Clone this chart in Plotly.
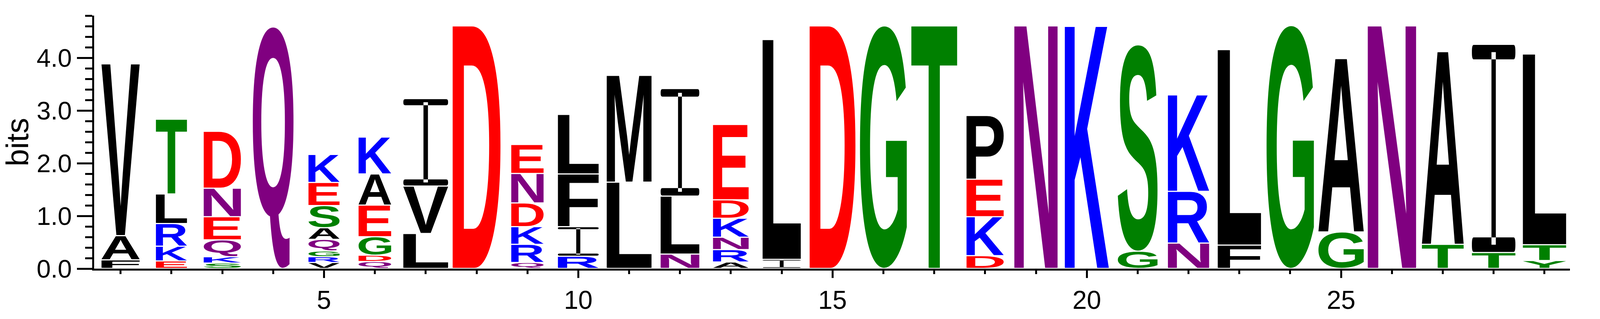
# Sequence logo (WebLogo style) drawn with plotly shapes
# letters are taken from the outlines of a bold sans font and stretched to fill each slot
import glob
import struct

import plotly.graph_objects as go


# sequence positions along the logo
positions = list(range(1, 30))

# letters of every stack, from the bottom to the top
stack_letters = ["FAV", "EKRLT", "SKQEND", "Q", "VRGQASEK", "QDGEAK", "LVI", "D",
                 "QRKDNE", "RIFL", "LM", "NLI", "ARNKDE", "IL", "D", "G", "T", "DKEP",
                 "N", "K", "GS", "NRK", "FL", "G", "GA", "N", "TA", "TI", "YTL"]

# height of every letter in bits, same order as stack_letters
stack_bits = [
    [0.14, 0.46, 3.26],
    [0.12, 0.28, 0.43, 0.56, 1.42],
    [0.08, 0.12, 0.32, 0.44, 0.54, 1.08],
    [4.56],
    [0.09, 0.11, 0.11, 0.22, 0.22, 0.42, 0.44, 0.53],
    [0.11, 0.12, 0.35, 0.60, 0.59, 0.70],
    [0.64, 0.90, 1.66],
    [4.58],
    [0.09, 0.345, 0.335, 0.45, 0.56, 0.55],
    [0.21, 0.56, 1.00, 1.13],
    [1.615, 2.025],
    [0.25, 1.10, 2.04],
    [0.10, 0.235, 0.235, 0.36, 0.35, 1.43],
    [0.15, 4.17],
    [4.58],
    [4.58],
    [4.58],
    [0.22, 0.74, 0.71, 1.21],
    [4.58],
    [4.57],
    [0.305, 3.915],
    [0.46, 0.98, 1.83],
    [0.42, 3.71],
    [4.585],
    [0.67, 3.29],
    [4.58],
    [0.435, 3.655],
    [0.28, 3.95],
    [0.127, 0.30, 3.62],
]

# visible width of every stack, as a fraction of one column
stack_widths = [0.75, 0.61, 0.73, 0.80, 0.61, 0.64, 0.88, 0.94, 0.635, 0.80,
                0.88, 0.76, 0.70, 0.75, 0.90, 0.92, 0.90, 0.73, 0.85, 0.865,
                0.78, 0.81, 0.85, 0.93, 0.89, 0.95, 0.82, 0.855, 0.85]

# y axis ticks
bit_ticks = [0, 1, 2, 3, 4]
# x axis labelled ticks
position_ticks = [5, 10, 15, 20, 25]

# chemistry colour scheme
colors = {}
for c in "GSTYC":
    colors[c] = "rgb(0,128,0)"
for c in "NQ":
    colors[c] = "rgb(128,0,128)"
for c in "KRH":
    colors[c] = "rgb(0,0,255)"
for c in "DE":
    colors[c] = "rgb(255,0,0)"
for c in "AVLIPWFM":
    colors[c] = "rgb(0,0,0)"

# the browser window only gets 4096 px wide, so every horizontal size is scaled down to that
PAGE_W = 4096
K = PAGE_W / 4250.0


def find_font():
    for name in ["LiberationSans-Bold.ttf", "Arimo-Bold.ttf", "DejaVuSans-Bold.ttf"]:
        hits = glob.glob("/usr/**/" + name, recursive=True)
        if hits:
            return hits[0]
    raise RuntimeError("no bold font found")


def load_glyphs(path, chars):
    """
    Read the outlines of some characters out of a TrueType file
    :return: dict char -> (bbox, list of contours [(x, y, oncurve), ...])
    """
    data = open(path, "rb").read()
    ntables = struct.unpack(">H", data[4:6])[0]
    tables = {}
    for i in range(ntables):
        tag, _, off, _ = struct.unpack(">4sIII", data[12 + 16 * i: 28 + 16 * i])
        tables[tag.decode("latin-1")] = off

    head = tables["head"]
    loc_format = struct.unpack(">h", data[head + 50: head + 52])[0]

    # cmap format 4
    cmap = tables["cmap"]
    nsub = struct.unpack(">H", data[cmap + 2: cmap + 4])[0]
    sub = None
    for i in range(nsub):
        pid, eid, off = struct.unpack(">HHI", data[cmap + 4 + 8 * i: cmap + 12 + 8 * i])
        fmt = struct.unpack(">H", data[cmap + off: cmap + off + 2])[0]
        if pid == 3 and fmt == 4 and sub is None:
            sub = cmap + off
    seg2 = struct.unpack(">H", data[sub + 6: sub + 8])[0]
    nseg = seg2 // 2
    ends = struct.unpack(">%dH" % nseg, data[sub + 14: sub + 14 + seg2])
    p = sub + 16 + seg2
    starts = struct.unpack(">%dH" % nseg, data[p: p + seg2])
    deltas = struct.unpack(">%dh" % nseg, data[p + seg2: p + 2 * seg2])
    ro = p + 2 * seg2
    ranges = struct.unpack(">%dH" % nseg, data[ro: ro + seg2])

    def glyph_id(ch):
        code = ord(ch)
        for i in range(nseg):
            if starts[i] <= code <= ends[i]:
                if ranges[i] == 0:
                    return (code + deltas[i]) & 0xFFFF
                addr = ro + 2 * i + ranges[i] + 2 * (code - starts[i])
                g = struct.unpack(">H", data[addr: addr + 2])[0]
                return (g + deltas[i]) & 0xFFFF if g else 0
        return 0

    loca = tables["loca"]
    glyf = tables["glyf"]

    def glyph_offset(g):
        if loc_format == 0:
            return 2 * struct.unpack(">H", data[loca + 2 * g: loca + 2 * g + 2])[0]
        return struct.unpack(">I", data[loca + 4 * g: loca + 4 * g + 4])[0]

    glyphs = {}
    for ch in chars:
        p = glyf + glyph_offset(glyph_id(ch))
        nc, xmin, ymin, xmax, ymax = struct.unpack(">hhhhh", data[p: p + 10])
        if nc < 0:
            raise RuntimeError("composite glyph " + ch)
        endpts = struct.unpack(">%dH" % nc, data[p + 10: p + 10 + 2 * nc])
        q = p + 10 + 2 * nc
        q += 2 + struct.unpack(">H", data[q: q + 2])[0]
        npts = endpts[-1] + 1
        flags = []
        while len(flags) < npts:
            f = data[q]
            q += 1
            flags.append(f)
            if f & 8:
                flags.extend([f] * data[q])
                q += 1
        coords = []
        for short_bit, same_bit in [(2, 16), (4, 32)]:
            vals = []
            v = 0
            for f in flags:
                if f & short_bit:
                    d = data[q]
                    q += 1
                    v += d if f & same_bit else -d
                elif not f & same_bit:
                    v += struct.unpack(">h", data[q: q + 2])[0]
                    q += 2
                vals.append(v)
            coords.append(vals)
        pts = [(coords[0][i], coords[1][i], flags[i] & 1) for i in range(npts)]
        contours = []
        s = 0
        for e in endpts:
            contours.append(pts[s: e + 1])
            s = e + 1
        glyphs[ch] = ((xmin, ymin, xmax, ymax), contours)
    return glyphs


def glyph_path(glyph, x0, x1, y0, y1):
    """ SVG path of a glyph stretched into the box [x0,x1] x [y0,y1] """
    (xmin, ymin, xmax, ymax), contours = glyph

    def tr(pt):
        x = x0 + (pt[0] - xmin) / (xmax - xmin) * (x1 - x0)
        y = y0 + (pt[1] - ymin) / (ymax - ymin) * (y1 - y0)
        return "%.4f,%.4f" % (x, y)

    parts = []
    for c in contours:
        k = next((i for i, pt in enumerate(c) if pt[2]), None)
        if k is None:
            start = ((c[0][0] + c[1][0]) / 2, (c[0][1] + c[1][1]) / 2, 1)
            c = c[1:] + c[:1]
        else:
            start = c[k]
            c = c[k + 1:] + c[:k]
        parts.append("M" + tr(start))
        ctrl = None
        for pt in c + [start]:
            if pt[2]:
                if ctrl is None:
                    parts.append("L" + tr(pt))
                else:
                    parts.append("Q" + tr(ctrl) + " " + tr(pt))
                    ctrl = None
            else:
                if ctrl is not None:
                    mid = ((ctrl[0] + pt[0]) / 2, (ctrl[1] + pt[1]) / 2, 1)
                    parts.append("Q" + tr(ctrl) + " " + tr(mid))
                ctrl = pt
        parts.append("Z")
    return " ".join(parts)


def rounded_box(x0, x1, y0, y1, rx, ry):
    f = lambda x, y: "%.4f,%.4f" % (x, y)
    return ("M" + f(x0 + rx, y0) + " L" + f(x1 - rx, y0) + " Q" + f(x1, y0) + " " + f(x1, y0 + ry) +
            " L" + f(x1, y1 - ry) + " Q" + f(x1, y1) + " " + f(x1 - rx, y1) +
            " L" + f(x0 + rx, y1) + " Q" + f(x0, y1) + " " + f(x0, y1 - ry) +
            " L" + f(x0, y0 + ry) + " Q" + f(x0, y0) + " " + f(x0 + rx, y0) + " Z")


def serif_i_path(x0, x1, y0, y1):
    """ WebLogo draws the I with bars so it is not mistaken for a plain stroke """
    w = x1 - x0
    h = y1 - y0
    bt = 0.07 * h
    rx = 0.04 * w
    ry = bt * 0.45
    xm = (x0 + x1) / 2
    sw = 0.05 * w
    return " ".join([
        rounded_box(x0, x1, y1 - bt, y1, rx, ry),
        rounded_box(x0, x1, y0, y0 + bt, rx, ry),
        "M%.4f,%.4f L%.4f,%.4f L%.4f,%.4f L%.4f,%.4f Z" % (
            xm - sw, y0 + bt * 0.5, xm + sw, y0 + bt * 0.5, xm + sw, y1 - bt * 0.5, xm - sw, y1 - bt * 0.5),
    ])


def visualize():
    glyphs = load_glyphs(find_font(), sorted(set("".join(stack_letters))))

    base = 0.015     # letters sit on top of the axis line
    gap = 0.022      # small white gap between stacked letters

    shapes = []
    for pos, letters, bits, width in zip(positions, stack_letters, stack_bits, stack_widths):
        y = base
        x0 = pos - width / 2
        x1 = pos + width / 2
        for n, (letter, h) in enumerate(zip(letters, bits)):
            ya = y + (gap if n > 0 else 0)
            yb = y + h
            if letter == "I":
                path = serif_i_path(x0, x1, ya, yb)
            else:
                path = glyph_path(glyphs[letter], x0, x1, ya, yb)
            shapes.append(dict(type="path", path=path, xref="x", yref="y",
                               fillcolor=colors[letter], line=dict(width=0)))
            y = yb

    fig = go.Figure(go.Scatter(x=positions, y=[0] * len(positions), mode="markers",
                               marker=dict(opacity=0), hoverinfo="skip", showlegend=False))

    fig.update_layout(
        width=PAGE_W, height=817,
        margin=dict(l=round(250 * K), r=round(80 * K), t=40, b=105),
        plot_bgcolor="white", paper_bgcolor="white",
        font=dict(family="Liberation Sans, Arial", color="black"),
        shapes=shapes,
        xaxis=dict(
            range=[0.48, 29.5], showgrid=False, zeroline=False,
            showline=True, linewidth=5, linecolor="black",
            tickvals=position_ticks, ticks="outside", ticklen=19, tickwidth=5, tickcolor="black",
            tickfont=dict(size=66),
            minor=dict(tickvals=[p for p in positions if p not in position_ticks],
                       ticks="outside", ticklen=9, tickwidth=5, tickcolor="black"),
        ),
        yaxis=dict(
            range=[0, 4.8], showgrid=False, zeroline=False,
            showline=True, linewidth=5, linecolor="black",
            tickvals=bit_ticks, tickformat=".1f",
            ticks="outside", ticklen=round(40 * K), tickwidth=5, tickcolor="black",
            tickfont=dict(size=65),
            minor=dict(dtick=0.2, tick0=0, ticks="outside", ticklen=round(19 * K), tickwidth=5, tickcolor="black"),
            title=dict(text="bits", font=dict(size=80), standoff=20),
        ),
    )

    # drop the default page margin so the figure starts at the window corner
    fig.write_html("out.html", config={"displayModeBar": False},
                   post_script="document.body.style.margin='0';")


# Main part of the script
if __name__ == '__main__':
    visualize()
    print("done")
